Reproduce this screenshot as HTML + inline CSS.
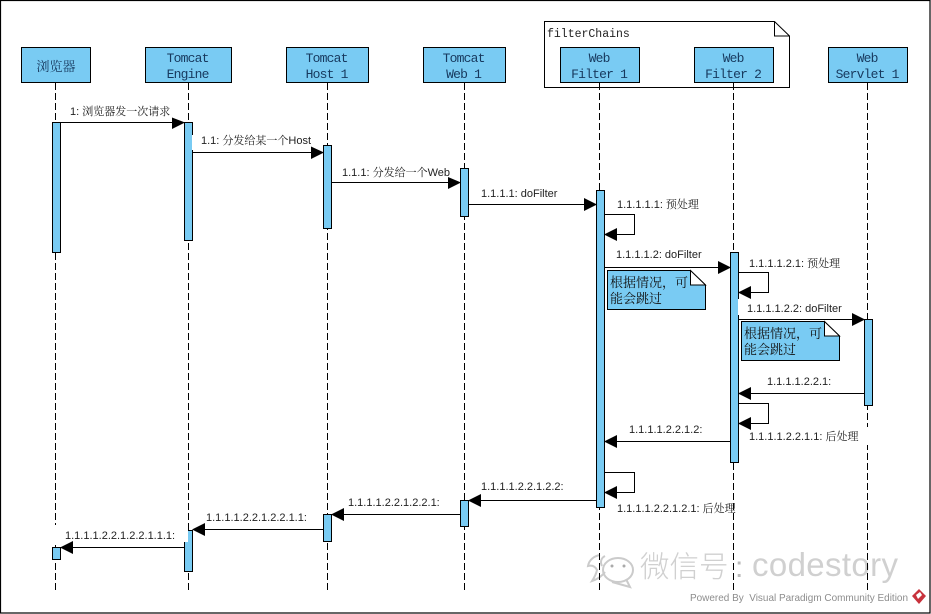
<!DOCTYPE html>
<html><head><meta charset="utf-8">
<style>
html,body{margin:0;padding:0;background:#fff;width:931px;height:614px;overflow:hidden}
svg{display:block}
.h{font:13px "Liberation Mono","Noto Serif CJK SC",monospace;fill:#17395e;text-anchor:middle;letter-spacing:-.8px}
.m{font:11px "Liberation Sans","Noto Serif CJK SC",sans-serif;fill:#222}
.n{font:13px "Noto Serif CJK SC","WenQuanYi Zen Hei",serif;fill:#111}
.b{fill:#79cbf3;stroke:#000;stroke-width:1}
.w{stroke:#000;stroke-width:1;fill:none}
.d{stroke:#000;stroke-width:1;stroke-dasharray:7 3;fill:none}
</style></head><body>
<svg width="931" height="614" viewBox="0 0 931 614" xmlns="http://www.w3.org/2000/svg">
<rect x="0.5" y="0.5" width="929.5" height="612.5" fill="#fff" stroke="#000" stroke-width="1.2"/>

<!-- filterChains note -->
<path d="M544.5 21.5H774.5L789.5 36V87.5H544.5Z" fill="#fff" stroke="#000"/>
<path d="M774.5 21.5V36H789.5" fill="none" stroke="#000"/>
<text x="547" y="37" style="font:11.5px 'Liberation Mono',monospace;fill:#222">filterChains</text>

<!-- lifelines -->
<path class="d" d="M55.5 83V591M188.5 83V591M327.5 83V591M464.5 83V591M599.5 83V591M733.5 83V591M867.5 83V591"/>
<!-- label gaps on lifelines -->
<rect x="50" y="525" width="10" height="20" fill="#fff"/>
<rect x="862" y="427" width="10" height="18" fill="#fff"/>

<!-- headers -->
<rect class="b" x="21.5" y="47.5" width="69" height="35"/>
<rect class="b" x="145.5" y="47.5" width="86" height="35"/>
<rect class="b" x="286.5" y="47.5" width="82" height="35"/>
<rect class="b" x="423.5" y="47.5" width="82" height="35"/>
<rect class="b" x="560.5" y="47.5" width="79" height="35"/>
<rect class="b" x="694.5" y="47.5" width="79" height="35"/>
<rect class="b" x="828.5" y="47.5" width="79" height="35"/>
<text x="56" y="71" class="h" style="letter-spacing:0">浏览器</text>
<text x="187.600" y="62" class="h">Tomcat</text><text x="187.600" y="78" class="h">Engine</text>
<text x="326.600" y="62" class="h">Tomcat</text><text x="326.600" y="78" class="h">Host 1</text>
<text x="463.600" y="62" class="h">Tomcat</text><text x="463.600" y="78" class="h">Web 1</text>
<text x="599.100" y="62" class="h">Web</text><text x="599.100" y="78" class="h">Filter 1</text>
<text x="733.100" y="62" class="h">Web</text><text x="733.100" y="78" class="h">Filter 2</text>
<text x="867.100" y="62" class="h">Web</text><text x="867.100" y="78" class="h">Servlet 1</text>

<!-- activations -->
<rect class="b" x="52.500" y="122.500" width="8" height="130"/>
<rect class="b" x="184.500" y="122.500" width="8" height="118"/>
<rect class="b" x="323.500" y="145.500" width="8" height="83"/>
<rect class="b" x="460.500" y="168.500" width="8" height="48"/>
<rect class="b" x="596.500" y="190.500" width="8" height="317"/>
<rect class="b" x="730.500" y="252.500" width="8" height="210"/>
<rect class="b" x="864.500" y="319.500" width="8" height="86"/>
<rect class="b" x="460.500" y="500.500" width="8" height="26"/>
<rect class="b" x="323.500" y="514.500" width="8" height="27"/>
<rect class="b" x="184.500" y="530.500" width="8" height="41"/>
<rect class="b" x="52.500" y="547.500" width="8" height="12"/>
<!-- clipped borders by label backgrounds -->
<rect x="192" y="135" width="2" height="15" fill="#fff"/>
<rect x="738" y="299" width="2" height="16" fill="#fff"/>
<rect x="184" y="528" width="4" height="14" fill="#fff"/>

<!-- messages -->
<path class="w" d="M60.500 122.500H172M192.500 152.500H311M331.500 182.500H449M468.500 204.500H585M604.500 267.500H719M738.500 319.500H853"/>
<path class="w" d="M864 393.500H750M730 441.500H616M596 500.500H480M460 514.500H343M323 529.500H204M184 547.500H72"/>
<path class="w" d="M604.500 214.500H634.500V234.500H616M738.500 272.500H768.500V292.500H750M738.500 403.500H768.500V423.500H750M604.500 472.500H634.500V492.500H616"/>
<g fill="#000">
<path d="M172 117.500L185 122.500L172 129Z"/>
<path d="M311 146.500L324 152.500L311 159Z"/>
<path d="M448 177L461 182.500L448 189Z"/>
<path d="M584 198L597 204.500L584 211Z"/>
<path d="M718 261L731 267.500L718 274Z"/>
<path d="M852 313L865 319.500L852 326Z"/>
<path d="M751 387L738 393.500L751 400Z"/>
<path d="M617 435L604 441.500L617 448Z"/>
<path d="M481 494L468 500.500L481 507Z"/>
<path d="M344 508L331 514.500L344 521Z"/>
<path d="M205 523L192 529.500L205 536Z"/>
<path d="M73 541L60 547.500L73 554Z"/>
<path d="M617 228L604 234.500L617 241Z"/>
<path d="M751 286L738 292.500L751 299Z"/>
<path d="M751 417L738 423.500L751 430Z"/>
<path d="M617 486L604 492.500L617 499Z"/>
</g>

<!-- message labels -->
<text class="m" x="70" y="115">1: 浏览器发一次请求</text>
<text class="m" x="201" y="144">1.1: 分发给某一个Host</text>
<text class="m" x="342" y="176">1.1.1: 分发给一个Web</text>
<text class="m" x="481" y="197">1.1.1.1: doFilter</text>
<text class="m" x="617" y="208">1.1.1.1.1: 预处理</text>
<text class="m" x="616" y="258">1.1.1.1.2: doFilter</text>
<text class="m" x="749" y="267">1.1.1.1.2.1: 预处理</text>
<text class="m" x="747" y="312">1.1.1.1.2.2: doFilter</text>
<text class="m" x="767" y="385">1.1.1.1.2.2.1:</text>
<text class="m" x="629" y="433">1.1.1.1.2.2.1.2:</text>
<text class="m" x="749" y="440">1.1.1.1.2.2.1.1: 后处理</text>
<text class="m" x="481" y="490">1.1.1.1.2.2.1.2.2:</text>
<text class="m" x="617" y="512">1.1.1.1.2.2.1.2.1: 后处理</text>
<text class="m" x="348" y="506">1.1.1.1.2.2.1.2.2.1:</text>
<text class="m" x="206" y="521">1.1.1.1.2.2.1.2.2.1.1:</text>
<text class="m" x="65" y="539">1.1.1.1.2.2.1.2.2.1.1.1:</text>

<!-- notes -->
<path class="b" d="M607.500 270.500H690.500L705.500 285V309.500H607.500Z"/>
<path d="M690.500 270.500V285H705.500Z" fill="#fff" stroke="#000"/>
<text class="n" x="610" y="287">根据情况，可</text>
<text class="n" x="610" y="303">能会跳过</text>
<path class="b" d="M741.500 321.500H824.500L839.500 336V360.500H741.500Z"/>
<path d="M824.500 321.500V336H839.500Z" fill="#fff" stroke="#000"/>
<text class="n" x="744" y="338">根据情况，可</text>
<text class="n" x="744" y="354">能会跳过</text>

<!-- watermark: multiply lets the lifelines show through -->
<g style="mix-blend-mode:multiply">
<g fill="none" stroke="#cbcbcb" stroke-width="2">
<path d="M600 555C594 556 589 560 588 566C592 565 595 566 597 570C596 575 594 578 592 581C598 579 602 576 605 572"/>
<path d="M605 556C601 558 600 562 602 566"/>
<ellipse cx="618" cy="570" rx="15" ry="12"/>
<path d="M612 582L630 587L626 579"/>
</g>
<circle cx="612" cy="566" r="1.500" fill="#aaa"/><circle cx="624" cy="566" r="1.500" fill="#aaa"/>
<text x="640" y="577" style="font:29.500px 'Noto Sans CJK SC',sans-serif;fill:#d0d0d0;font-weight:300">微信号</text>
<text x="735" y="577" style="font:30px 'Liberation Sans',sans-serif;fill:#bbb">:</text>
<text x="752" y="576" style="font:33px 'Liberation Sans',sans-serif;fill:#d0d0d0" textLength="146" lengthAdjust="spacing">codestory</text>
<text x="690" y="601" textLength="218" lengthAdjust="spacingAndGlyphs" xml:space="preserve" style="font:10.500px 'Liberation Sans',sans-serif;fill:#8d8d8d">Powered By  Visual Paradigm Community Edition</text>
</g>
<path d="M919 589L926 596L919 604L912 596Z" fill="#c8323c"/>
<path d="M916 595L920 592L922 595L918 599Z" fill="#fff"/>
</svg>
</body></html>
